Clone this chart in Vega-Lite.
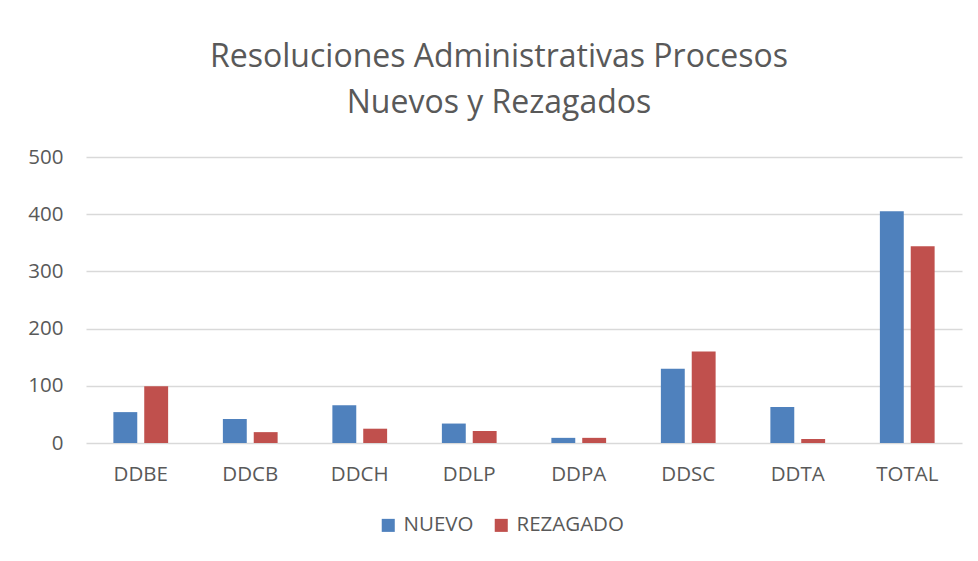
{
  "$schema": "https://vega.github.io/schema/vega-lite/v6.json",
  "width": 876,
  "height": 286,
  "autosize": {"type": "none"},
  "padding": {"left": 86, "top": 157, "right": 16, "bottom": 118},
  "background": "white",
  "title": {
    "text": ["Resoluciones Administrativas Procesos", "Nuevos y Rezagados"],
    "font": "Open Sans",
    "fontSize": 32,
    "fontWeight": "normal",
    "color": "#595959",
    "anchor": "middle",
    "dx": -25,
    "lineHeight": 46,
    "offset": 27
  },
  "data": {
    "values": [
      {"cat": "DDBE", "tipo": "NUEVO", "valor": 54},
      {"cat": "DDBE", "tipo": "REZAGADO", "valor": 99},
      {"cat": "DDCB", "tipo": "NUEVO", "valor": 42},
      {"cat": "DDCB", "tipo": "REZAGADO", "valor": 19},
      {"cat": "DDCH", "tipo": "NUEVO", "valor": 66},
      {"cat": "DDCH", "tipo": "REZAGADO", "valor": 25},
      {"cat": "DDLP", "tipo": "NUEVO", "valor": 34},
      {"cat": "DDLP", "tipo": "REZAGADO", "valor": 21},
      {"cat": "DDPA", "tipo": "NUEVO", "valor": 9},
      {"cat": "DDPA", "tipo": "REZAGADO", "valor": 9},
      {"cat": "DDSC", "tipo": "NUEVO", "valor": 130},
      {"cat": "DDSC", "tipo": "REZAGADO", "valor": 160},
      {"cat": "DDTA", "tipo": "NUEVO", "valor": 63},
      {"cat": "DDTA", "tipo": "REZAGADO", "valor": 7},
      {"cat": "TOTAL", "tipo": "NUEVO", "valor": 405},
      {"cat": "TOTAL", "tipo": "REZAGADO", "valor": 344}
    ]
  },
  "mark": {"type": "bar"},
  "encoding": {
    "x": {
      "field": "cat",
      "type": "nominal",
      "sort": null,
      "title": null,
      "scale": {"paddingInner": 0.5, "paddingOuter": 0.25},
      "axis": {
        "labelAngle": 0,
        "labelFont": "Open Sans",
        "labelFontSize": 20.5,
        "labelColor": "#595959",
        "labelPadding": 21,
        "ticks": false,
        "domain": false,
        "grid": false
      }
    },
    "xOffset": {
      "field": "tipo",
      "type": "nominal",
      "scale": {"paddingInner": 0.226, "paddingOuter": 0}
    },
    "y": {
      "field": "valor",
      "type": "quantitative",
      "title": null,
      "scale": {"domain": [0, 500], "nice": false},
      "axis": {
        "values": [0, 100, 200, 300, 400, 500],
        "labelFont": "Open Sans",
        "labelFontSize": 20.5,
        "labelColor": "#595959",
        "labelPadding": 23,
        "ticks": false,
        "domain": false,
        "grid": true,
        "gridColor": "#D9D9D9",
        "gridWidth": 1.3
      }
    },
    "color": {
      "field": "tipo",
      "type": "nominal",
      "title": null,
      "scale": {"domain": ["NUEVO", "REZAGADO"], "range": ["#4F81BD", "#C0504D"]},
      "legend": {
        "orient": "none",
        "direction": "horizontal",
        "legendX": 292,
        "legendY": 358,
        "symbolType": "square",
        "symbolSize": 170,
        "symbolOpacity": 1,
        "labelFont": "Open Sans",
        "labelFontSize": 20.5,
        "labelColor": "#595959",
        "columnPadding": 17,
        "labelOffset": 5
      }
    }
  },
  "config": {
    "view": {"stroke": null}
  }
}
